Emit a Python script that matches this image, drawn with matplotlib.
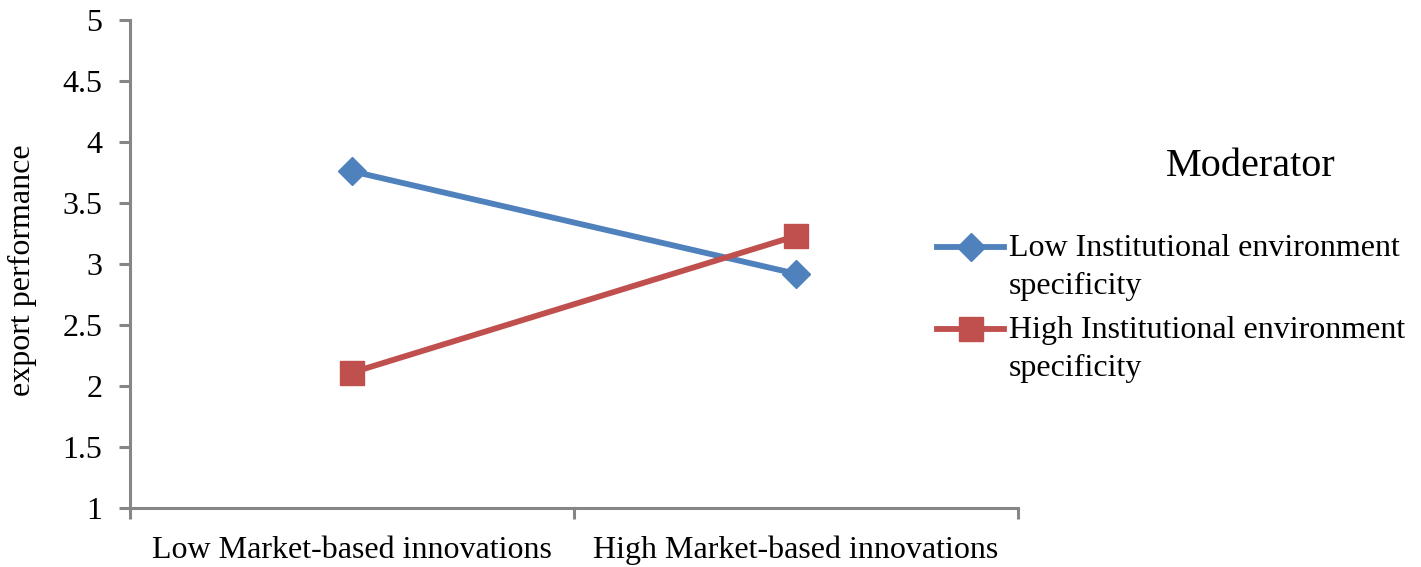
import numpy as np
import matplotlib.pyplot as plt
from matplotlib.legend_handler import HandlerLine2D

categories = ["Low Market-based innovations", "High Market-based innovations"]
low_inst = [3.76, 2.92]
high_inst = [2.11, 3.23]
series_names = ["Low Institutional environment\nspecificity",
                "High Institutional environment\nspecificity"]

plt.rcParams['font.family'] = ['Liberation Serif', 'DejaVu Serif']


# legend handle sits on the first text line, like the Excel original
class FirstLineHandler(HandlerLine2D):
    def create_artists(self, legend, orig_handle, xdescent, ydescent,
                       width, height, fontsize, trans):
        return super().create_artists(legend, orig_handle, xdescent, ydescent - 29,
                                      width, height, fontsize, trans)


fig = plt.figure(figsize=(14.21, 5.67), dpi=100)
ax = fig.add_axes([130/1421, 59/567, 888/1421, 488/567])

x = np.arange(len(categories))
l1, = ax.plot(x, low_inst, color='#4F81BD', lw=4.2, marker='D', ms=14, label=series_names[0])
l2, = ax.plot(x, high_inst, color='#C0504D', lw=4.2, marker='s', ms=17, label=series_names[1])

ax.set_xlim(-0.5, 1.5)
ax.set_ylim(1, 5)
ax.set_yticks(np.arange(1, 5.01, 0.5))
ax.set_yticklabels(["1", "1.5", "2", "2.5", "3", "3.5", "4", "4.5", "5"])
ax.set_xticks([-0.5, 0.5, 1.5])
ax.set_xticklabels([])
ax.set_xticks(x, minor=True)
ax.set_xticklabels(categories, minor=True)
ax.tick_params(axis='x', which='minor', length=0, pad=20, labelsize=23)
ax.tick_params(axis='x', which='major', length=8, width=2.2, color='#868686')
ax.tick_params(axis='y', length=8, width=2.2, color='#868686', labelsize=23, pad=12)

for s in ['top', 'right']:
    ax.spines[s].set_visible(False)
for s in ['left', 'bottom']:
    ax.spines[s].set_color('#868686')
    ax.spines[s].set_linewidth(2.2)

fig.text(22/1421, 1 - 270/567, "export performance", fontsize=23,
         rotation=90, ha='center', va='center')

fig.text(1251/1421, 1 - 167/567, "Moderator", fontsize=29, ha='center', va='center')
leg = ax.legend(loc='upper left', bbox_to_anchor=(921/1421, 1 - 218/567),
                bbox_transform=fig.transFigure, frameon=False, fontsize=23,
                handlelength=2.1, handletextpad=0.15, labelspacing=0.45, borderpad=0,
                handler_map={l1: FirstLineHandler(), l2: FirstLineHandler()})
for t in leg.get_texts():
    t.set_linespacing(1.42)

fig.savefig("out.png", dpi=100)
